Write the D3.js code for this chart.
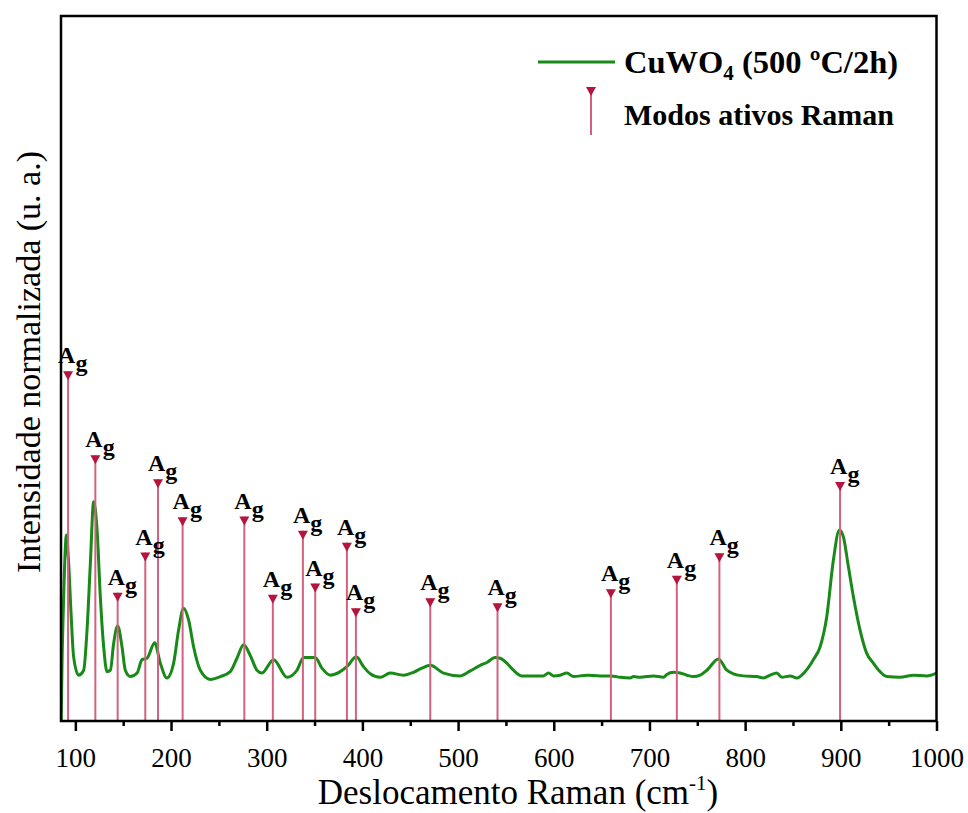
<!DOCTYPE html>
<html>
<head>
<meta charset="utf-8">
<script src="https://cdn.jsdelivr.net/npm/d3@7"></script>
<style>
  html, body { margin: 0; padding: 0; background: #fff; }
  svg { display: block; }
  text { font-family: "Liberation Serif", "Times New Roman", serif; }
</style>
</head>
<body>
<svg id="chart" width="968" height="813"></svg>
<script>
// ---- Data ----
const spectrumShift = [85.2, 86.1, 87.8, 89.6, 90.6, 93.0, 95.5, 98.2, 103.4, 108.7, 112.2, 115.7, 119.1, 122.7, 126.1, 129.6, 133.1, 136.6, 140.0, 144.2, 148.8, 152.2, 157.5, 164.5, 169.7, 174.9, 182.9, 188.8, 195.8, 202.7, 207.9, 213.1, 218.4, 223.6, 230.6, 241.0, 251.5, 261.9, 268.9, 275.8, 282.8, 289.8, 295.0, 307.2, 321.2, 331.6, 338.5, 350.7, 357.7, 366.4, 376.8, 383.8, 393.6, 401.2, 408.2, 418.6, 429.1, 443.0, 453.4, 462.2, 470.9, 484.8, 502.2, 512.7, 523.1, 530.1, 538.8, 544.0, 551.0, 557.9, 566.7, 578.8, 589.2, 594.5, 599.7, 606.7, 613.7, 620.6, 634.6, 648.5, 659.6, 669.4, 679.8, 683.3, 690.3, 704.2, 714.6, 718.2, 725.1, 732.1, 739.1, 746.0, 753.0, 760.0, 772.1, 780.9, 787.7, 798.2, 812.2, 819.1, 826.1, 833.1, 838.3, 847.0, 854.0, 862.6, 871.3, 878.3, 885.3, 892.2, 898.5, 902.7, 907.9, 913.2, 920.1, 927.1, 934.0, 941.0, 948.0, 961.9, 975.8, 989.8, 1000.0];
const spectrumIntensity = [0.000, 0.082, 0.176, 0.247, 0.264, 0.224, 0.153, 0.091, 0.065, 0.072, 0.129, 0.224, 0.311, 0.271, 0.176, 0.105, 0.070, 0.072, 0.110, 0.135, 0.105, 0.072, 0.063, 0.068, 0.087, 0.089, 0.111, 0.082, 0.061, 0.082, 0.129, 0.160, 0.143, 0.105, 0.072, 0.059, 0.063, 0.070, 0.089, 0.108, 0.093, 0.072, 0.068, 0.087, 0.062, 0.072, 0.090, 0.090, 0.075, 0.065, 0.070, 0.077, 0.091, 0.077, 0.067, 0.062, 0.068, 0.065, 0.069, 0.075, 0.079, 0.068, 0.064, 0.071, 0.079, 0.083, 0.090, 0.089, 0.082, 0.072, 0.064, 0.064, 0.064, 0.068, 0.064, 0.065, 0.068, 0.063, 0.065, 0.064, 0.064, 0.062, 0.061, 0.063, 0.062, 0.064, 0.062, 0.066, 0.069, 0.068, 0.065, 0.063, 0.065, 0.072, 0.088, 0.072, 0.067, 0.064, 0.063, 0.061, 0.065, 0.068, 0.062, 0.064, 0.061, 0.070, 0.087, 0.105, 0.148, 0.228, 0.271, 0.261, 0.219, 0.176, 0.129, 0.096, 0.082, 0.070, 0.063, 0.062, 0.065, 0.064, 0.068];

const modeShift = [92.4, 120.9, 144.2, 173.1, 186.4, 212.1, 276.6, 306.4, 337.8, 350.7, 383.8, 393.2, 470.9, 541.2, 659.7, 728.6, 773.1, 899.2];
const modeHeight = [0.496, 0.377, 0.182, 0.239, 0.343, 0.289, 0.290, 0.179, 0.270, 0.195, 0.253, 0.160, 0.174, 0.167, 0.187, 0.206, 0.238, 0.339];
const modeLabelMain = "A";
const modeLabelSub = "g";

const xMajorTicks = [100, 200, 300, 400, 500, 600, 700, 800, 900, 1000];
const xMinorTicks = [150, 250, 350, 450, 550, 650, 750, 850, 950];

const xTitle = "Deslocamento Raman (cm";
const xTitleSup = "-1";
const yTitle = "Intensidade normalizada (u. a.)";
const legendSeriesMain = "CuWO";
const legendSeriesSub = "4";
const legendSeriesRest = " (500 ºC/2h)";
const legendModes = "Modos ativos Raman";

// ---- Layout ----
const svg = d3.select("#chart");
const L = 61, R = 936.5, T = 16, B = 721;
const green = "#178a17";
const stemColor = "#d2627f";
const markColor = "#b5143f";

const x = d3.scaleLinear().domain([85, 1000]).range([L, R]);
const y = d3.scaleLinear().domain([0, 1]).range([B, T]);

svg.append("defs").append("clipPath").attr("id", "clip")
  .append("rect").attr("x", L).attr("y", T).attr("width", R - L).attr("height", B - T);

// spectrum
const spectrum = spectrumShift.map((s, i) => ({ s, v: spectrumIntensity[i] }));
const line = d3.line().x(d => x(d.s)).y(d => y(d.v)).curve(d3.curveMonotoneX);
svg.append("path")
  .datum(spectrum)
  .attr("clip-path", "url(#clip)")
  .attr("d", line)
  .attr("fill", "none")
  .attr("stroke", green)
  .attr("stroke-width", 3)
  .attr("stroke-linejoin", "round");

// Raman modes
const modes = modeShift.map((s, i) => ({ s, h: modeHeight[i] }));
const mg = svg.append("g");
mg.selectAll("line.stem").data(modes).join("line")
  .attr("class", "stem")
  .attr("x1", d => x(d.s)).attr("x2", d => x(d.s))
  .attr("y1", d => y(d.h)).attr("y2", y(0))
  .attr("stroke", stemColor).attr("stroke-width", 2);
mg.selectAll("path.mark").data(modes).join("path")
  .attr("class", "mark")
  .attr("transform", d => `translate(${x(d.s)},${y(d.h)})`)
  .attr("d", "M-5,0L5,0L0,9Z")
  .attr("fill", markColor);
const lab = mg.selectAll("text.lab").data(modes).join("text")
  .attr("class", "lab")
  .attr("x", d => x(d.s) - 10)
  .attr("y", d => y(d.h) - 8)
  .attr("font-size", 24)
  .attr("font-weight", "bold")
  .attr("fill", "#000");
lab.append("tspan").text(modeLabelMain);
lab.append("tspan").attr("dy", 8).text(modeLabelSub);

// axes
const ax = svg.append("g").attr("transform", `translate(0,${B})`)
  .call(d3.axisBottom(x).tickValues(xMajorTicks).tickSize(10).tickFormat(d3.format("d")));
ax.select(".domain").remove();
ax.selectAll(".tick line").attr("stroke", "#000").attr("stroke-width", 2.5);
ax.selectAll(".tick text").attr("y", 46).attr("dy", 0)
  .attr("font-size", 27).attr("font-family", "Liberation Serif").attr("fill", "#000");

const axm = svg.append("g").attr("transform", `translate(0,${B})`)
  .call(d3.axisBottom(x).tickValues(xMinorTicks).tickSize(5).tickFormat(""));
axm.select(".domain").remove();
axm.selectAll(".tick line").attr("stroke", "#000").attr("stroke-width", 2.5);

// frame
svg.append("rect").attr("x", L).attr("y", T).attr("width", R - L).attr("height", B - T)
  .attr("fill", "none").attr("stroke", "#000").attr("stroke-width", 2.5);

// titles
const xt = svg.append("text").attr("x", 518).attr("y", 804)
  .attr("text-anchor", "middle").attr("font-size", 35).attr("fill", "#000");
xt.append("tspan").text(xTitle);
xt.append("tspan").attr("font-size", 21).attr("dy", -14).text(xTitleSup);
xt.append("tspan").attr("dy", 14).text(")");

svg.append("text")
  .attr("transform", "translate(40,362) rotate(-90)")
  .attr("text-anchor", "middle").attr("font-size", 34).attr("fill", "#000")
  .text(yTitle);

// legend
svg.append("line").attr("x1", 538).attr("x2", 615).attr("y1", 62).attr("y2", 62)
  .attr("stroke", green).attr("stroke-width", 3);
const lt = svg.append("text").attr("x", 624).attr("y", 73)
  .attr("font-size", 32.5).attr("font-weight", "bold").attr("fill", "#000");
lt.append("tspan").text(legendSeriesMain);
lt.append("tspan").attr("font-size", 21).attr("dy", 7).text(legendSeriesSub);
lt.append("tspan").attr("dy", -7).text(legendSeriesRest);

svg.append("line").attr("x1", 591).attr("x2", 591).attr("y1", 87).attr("y2", 135)
  .attr("stroke", stemColor).attr("stroke-width", 2);
svg.append("path").attr("transform", "translate(591,87)").attr("d", "M-5,0L5,0L0,9Z").attr("fill", markColor);
svg.append("text").attr("x", 624).attr("y", 125)
  .attr("font-size", 30).attr("font-weight", "bold").attr("fill", "#000")
  .text(legendModes);
</script>
</body>
</html>
